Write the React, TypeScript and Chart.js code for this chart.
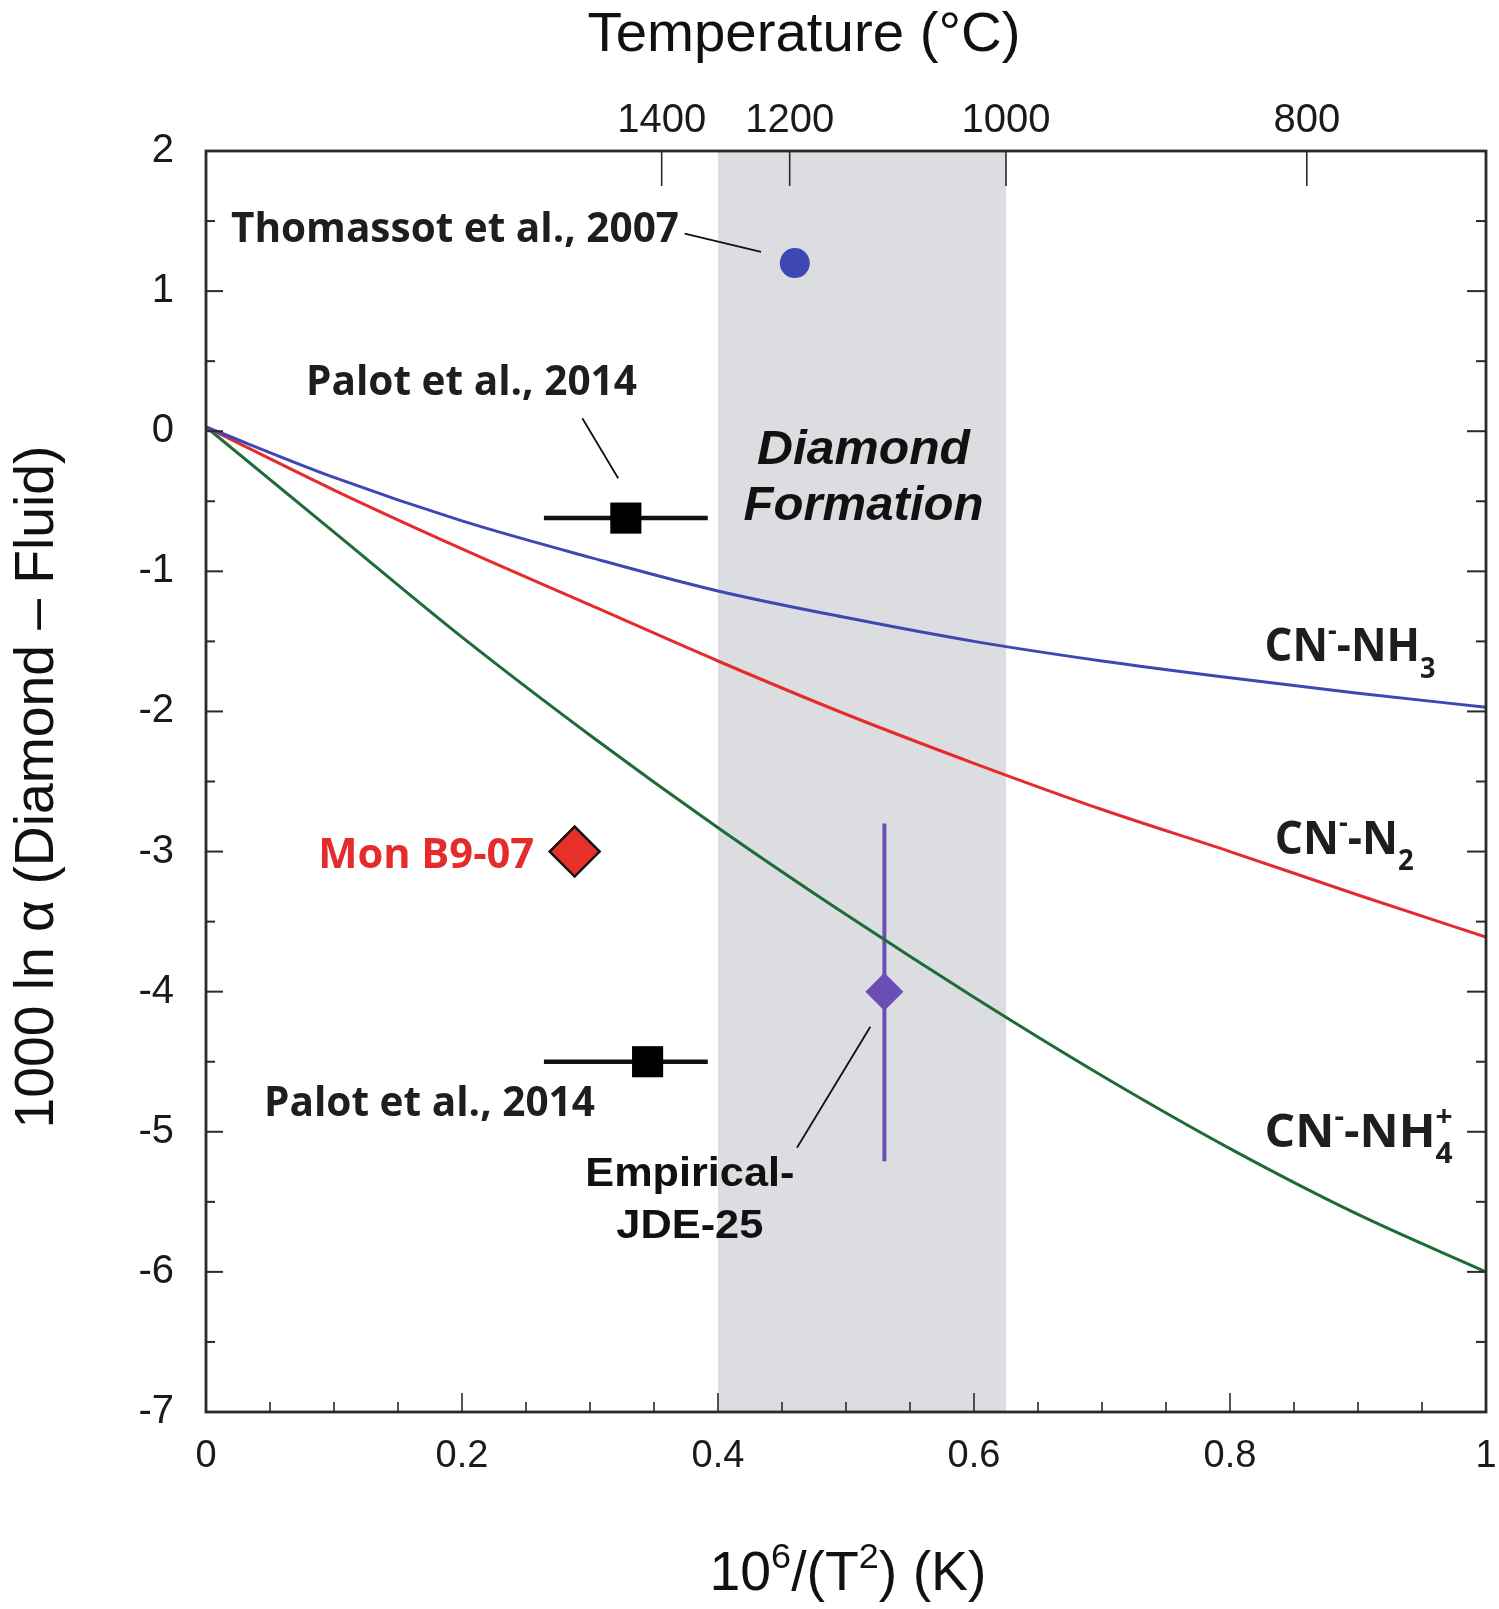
import React, { useEffect, useRef } from "react";
import { Chart, registerables } from "chart.js";

Chart.register(...registerables);

// ---------------- data ----------------
const curveX = [0, 0.1, 0.2, 0.3, 0.4, 0.5, 0.6, 0.7, 0.8, 0.9, 1.0];
const cnNH3 = [0.03, -0.33, -0.64, -0.9, -1.14, -1.33, -1.5, -1.64, -1.76, -1.87, -1.97];
const cnN2 = [0.03, -0.42, -0.84, -1.24, -1.64, -2.02, -2.37, -2.7, -3.0, -3.31, -3.61];
const cnNH4 = [0.03, -0.72, -1.47, -2.17, -2.83, -3.45, -4.04, -4.6, -5.12, -5.59, -6.0];

// top (temperature) axis: labels and where the figure places them on the 10^6/T^2 axis
const tempTicksC = [1400, 1200, 1000, 800];
const tempTickX = [0.356, 0.456, 0.625, 0.86];
const xTickValues = [0, 0.2, 0.4, 0.6, 0.8, 1];
const yTickValues = [2, 1, 0, -1, -2, -3, -4, -5, -6, -7];

const shadeRange = [0.4, 0.625];

const thomassotX = [0.46];
const thomassotY = [1.2];
const palotX = [0.328, 0.345];
const palotY = [-0.62, -4.5];
const palotXMin = [0.264, 0.264];
const palotXMax = [0.392, 0.392];
const monB9X = [0.288];
const monB9Y = [-3.0];
const jdeX = [0.53];
const jdeY = [-4.0];
const jdeYMin = [-5.21];
const jdeYMax = [-2.8];

// ---------------- styling / layout ----------------
const SANS = '"Liberation Sans", Arial, Helvetica, sans-serif';
const LABEL = '"Open Sans", "Noto Sans", sans-serif';
const TEXT = "#1f1d1e";
const BLUE = "#3d48b3";
const RED = "#e52b2b";
const GREEN = "#1d6b37";
const PURPLE = "#6a4db5";

function fitText(
  ctx: CanvasRenderingContext2D,
  text: string,
  x: number,
  y: number,
  font: string,
  color: string,
  targetW: number,
  align: CanvasTextAlign = "center"
) {
  ctx.save();
  ctx.font = font;
  const w = ctx.measureText(text).width;
  const s = targetW > 0 ? targetW / w : 1;
  ctx.translate(x, y);
  ctx.scale(s, 1);
  ctx.fillStyle = color;
  ctx.textAlign = align;
  ctx.textBaseline = "alphabetic";
  ctx.fillText(text, 0, 0);
  ctx.restore();
}

type Part = { t: string; mode?: "sup" | "sub"; stay?: boolean };

function drawParts(
  ctx: CanvasRenderingContext2D,
  parts: Part[],
  x: number,
  baseline: number,
  family: string,
  weight: string,
  size: number,
  targetW: number,
  color: string,
  align: "left" | "center",
  supDy: number,
  subDy: number,
  smallRatio: number
) {
  const small = size * smallRatio;
  const fMain = `${weight} ${size}px ${family}`;
  const fSmall = `${weight} ${small}px ${family}`;
  const widths: number[] = [];
  let total = 0;
  let pos = 0;
  parts.forEach((p) => {
    ctx.font = p.mode ? fSmall : fMain;
    const w = ctx.measureText(p.t).width;
    widths.push(w);
    if (!p.stay) pos += w;
    total = Math.max(total, pos, pos + (p.stay ? w : 0));
  });
  const s = targetW > 0 ? targetW / total : 1;
  ctx.save();
  const x0 = align === "center" ? x - (total * s) / 2 : x;
  ctx.translate(x0, baseline);
  ctx.scale(s, 1);
  ctx.fillStyle = color;
  ctx.textAlign = "left";
  ctx.textBaseline = "alphabetic";
  let cx = 0;
  parts.forEach((p, i) => {
    ctx.font = p.mode ? fSmall : fMain;
    const dy = p.mode === "sup" ? -size * supDy : p.mode === "sub" ? size * subDy : 0;
    ctx.fillText(p.t, cx, dy);
    if (!p.stay) cx += widths[i];
  });
  ctx.restore();
}

function line(ctx: CanvasRenderingContext2D, x1: number, y1: number, x2: number, y2: number) {
  ctx.beginPath();
  ctx.moveTo(x1, y1);
  ctx.lineTo(x2, y2);
  ctx.stroke();
}

const decorPlugin = {
  id: "decor",
  beforeDatasetsDraw(chart: any) {
    const { ctx, chartArea: a } = chart;
    const xs = chart.scales.x;
    const ys = chart.scales.y;
    ctx.save();
    // diamond-formation band
    const x0 = xs.getPixelForValue(shadeRange[0]);
    const x1 = xs.getPixelForValue(shadeRange[1]);
    ctx.fillStyle = "#dcdde0";
    ctx.fillRect(x0, a.top, x1 - x0, a.bottom - a.top);
    // Palot error bars (horizontal)
    ctx.strokeStyle = "#111";
    ctx.lineWidth = 4.5;
    ctx.lineCap = "butt";
    palotY.forEach((py, i) => {
      const yp = ys.getPixelForValue(py);
      line(ctx, xs.getPixelForValue(palotXMin[i]), yp, xs.getPixelForValue(palotXMax[i]), yp);
    });
    // JDE vertical error bar
    ctx.strokeStyle = PURPLE;
    ctx.lineWidth = 4;
    jdeX.forEach((jx, i) => {
      const xp = xs.getPixelForValue(jx);
      line(ctx, xp, ys.getPixelForValue(jdeYMin[i]), xp, ys.getPixelForValue(jdeYMax[i]));
    });
    ctx.restore();
  },
  afterDraw(chart: any) {
    const { ctx, chartArea: a } = chart;
    const xs = chart.scales.x;
    const ys = chart.scales.y;
    const px = (v: number) => xs.getPixelForValue(v);
    const py = (v: number) => ys.getPixelForValue(v);
    ctx.save();

    // frame
    ctx.strokeStyle = "#2a2a2a";
    ctx.lineWidth = 2.8;
    ctx.strokeRect(a.left, a.top, a.right - a.left, a.bottom - a.top);

    // inward ticks
    ctx.lineWidth = 2;
    yTickValues.forEach((v) => {
      const yp = py(v);
      line(ctx, a.left, yp, a.left + 17, yp);
      line(ctx, a.right, yp, a.right - 19, yp);
      if (v < 2) {
        const ym = py(v + 0.5);
        line(ctx, a.left, ym, a.left + 9, ym);
        line(ctx, a.right, ym, a.right - 10, ym);
      }
    });
    ctx.lineWidth = 1.6;
    for (let i = 0; i <= 20; i++) {
      const v = i * 0.05;
      const xp = px(v);
      const major = i % 4 === 0;
      line(ctx, xp, a.bottom, xp, a.bottom - (major ? 19 : 10));
    }
    tempTickX.forEach((tx) => {
      const xp = px(tx);
      line(ctx, xp, a.top, xp, a.top + 35);
    });

    // leader lines
    ctx.strokeStyle = "#111";
    ctx.lineWidth = 1.8;
    line(ctx, px(0.374), py(1.41), px(0.4336), py(1.28));
    line(ctx, px(0.294), py(0.093), px(0.322), py(-0.336));
    line(ctx, px(0.4617), py(-5.114), px(0.519), py(-4.25));

    // annotations
    fitText(ctx, "Thomassot et al., 2007", px(0.1945), py(1.35), `bold 41px ${LABEL}`, TEXT, 448);
    fitText(ctx, "Palot et al., 2014", px(0.2074), py(0.257), `bold 41px ${LABEL}`, TEXT, 331);
    fitText(ctx, "Palot et al., 2014", px(0.1746), py(-4.886), `bold 41px ${LABEL}`, TEXT, 331);
    fitText(ctx, "Mon B9-07", px(0.172), py(-3.114), `bold 41px ${LABEL}`, RED, 216);
    fitText(ctx, "Diamond", px(0.5137), py(-0.236), `italic bold 49px ${SANS}`, "#111", 213);
    fitText(ctx, "Formation", px(0.5137), py(-0.636), `italic bold 49px ${SANS}`, "#111", 240);
    fitText(ctx, "Empirical-", px(0.378), py(-5.386), `bold 40px ${SANS}`, "#111", 209);
    fitText(ctx, "JDE-25", px(0.378), py(-5.757), `bold 40px ${SANS}`, "#111", 147);

    drawParts(ctx, [{ t: "CN" }, { t: "-", mode: "sup" }, { t: "-NH" }, { t: "3", mode: "sub" }],
      px(0.827), py(-1.643), LABEL, "bold", 46, 171, TEXT, "left", 0.47, 0.36, 0.62);
    drawParts(ctx, [{ t: "CN" }, { t: "-", mode: "sup" }, { t: "-N" }, { t: "2", mode: "sub" }],
      px(0.835), py(-3.014), LABEL, "bold", 46, 139, TEXT, "left", 0.47, 0.36, 0.62);
    drawParts(ctx, [{ t: "CN" }, { t: "-", mode: "sup" }, { t: "-NH" }, { t: "4", mode: "sub", stay: true }, { t: "+", mode: "sup" }],
      px(0.827), py(-5.107), LABEL, "bold", 46, 188, TEXT, "left", 0.45, 0.36, 0.62);

    // axis titles
    fitText(ctx, "Temperature (°C)", 804, 51, `55px ${SANS}`, "#111", 433);
    drawParts(ctx, [{ t: "10" }, { t: "6", mode: "sup" }, { t: "/(T" }, { t: "2", mode: "sup" }, { t: ") (K)" }],
      848, 1590, SANS, "normal", 55, 277, "#111", "center", 0.4, 0, 0.65);
    ctx.save();
    ctx.translate(53, 787);
    ctx.rotate(-Math.PI / 2);
    fitText(ctx, "1000 ln \u03b1 (Diamond \u2013 Fluid)", 0, 0, `55px ${SANS}`, "#111", 683);
    ctx.restore();

    ctx.restore();
  },
};

const toXY = (xsArr: number[], ysArr: number[]) => xsArr.map((x, i) => ({ x, y: ysArr[i] }));

export default function App() {
  const ref = useRef<HTMLCanvasElement>(null);
  useEffect(() => {
    const canvas = ref.current;
    if (!canvas) return;
    const tickFont = (size: number) => ({ family: SANS, size });
    const zeroPadX = (s: any, h: number) => {
      s.height = h;
      s.paddingLeft = 0;
      s.paddingRight = 0;
    };
    const chart = new Chart(canvas, {
      type: "scatter",
      data: {
        datasets: [
          {
            label: "Thomassot et al., 2007",
            data: toXY(thomassotX, thomassotY),
            pointStyle: "circle",
            pointRadius: 15,
            backgroundColor: BLUE,
            borderColor: BLUE,
            borderWidth: 0,
            showLine: false,
          },
          {
            label: "Empirical-JDE-25",
            data: toXY(jdeX, jdeY),
            pointStyle: "rectRot",
            pointRadius: 19,
            backgroundColor: PURPLE,
            borderColor: PURPLE,
            borderWidth: 0,
            showLine: false,
          },
          {
            label: "Mon B9-07",
            data: toXY(monB9X, monB9Y),
            pointStyle: "rectRot",
            pointRadius: 25,
            backgroundColor: "#e8302a",
            borderColor: "#111",
            borderWidth: 2.5,
            showLine: false,
          },
          {
            label: "Palot et al., 2014",
            data: toXY(palotX, palotY),
            pointStyle: "rect",
            pointRadius: 22,
            backgroundColor: "#000",
            borderColor: "#000",
            borderWidth: 0,
            showLine: false,
          },
          {
            label: "CN--NH3",
            data: toXY(curveX, cnNH3),
            showLine: true,
            borderColor: BLUE,
            borderWidth: 3,
            pointRadius: 0,
            cubicInterpolationMode: "monotone",
          },
          {
            label: "CN--N2",
            data: toXY(curveX, cnN2),
            showLine: true,
            borderColor: RED,
            borderWidth: 3,
            pointRadius: 0,
            cubicInterpolationMode: "monotone",
          },
          {
            label: "CN--NH4+",
            data: toXY(curveX, cnNH4),
            showLine: true,
            borderColor: GREEN,
            borderWidth: 3,
            pointRadius: 0,
            cubicInterpolationMode: "monotone",
          },
        ] as any,
      },
      options: {
        responsive: false,
        animation: false,
        events: [],
        layout: { autoPadding: false, padding: { left: 0, right: 13, top: 0, bottom: 0 } },
        plugins: { legend: { display: false }, tooltip: { enabled: false } },
        scales: {
          x: {
            type: "linear",
            position: "bottom",
            min: 0,
            max: 1,
            grid: { display: false, drawTicks: false, tickLength: 0 },
            border: { display: false },
            afterBuildTicks: (s: any) => {
              s.ticks = xTickValues.map((v) => ({ value: v }));
            },
            ticks: {
              autoSkip: false,
              maxRotation: 0,
              padding: 22,
              color: "#1a1a1a",
              font: tickFont(38),
              callback: (v: any) => String(Math.round(Number(v) * 10) / 10),
            },
            afterFit: (s: any) => zeroPadX(s, 197),
          },
          xTop: {
            type: "linear",
            position: "top",
            min: 0,
            max: 1,
            grid: { display: false, drawTicks: false, tickLength: 0 },
            border: { display: false },
            afterBuildTicks: (s: any) => {
              s.ticks = tempTickX.map((v) => ({ value: v }));
            },
            ticks: {
              autoSkip: false,
              maxRotation: 0,
              padding: 6,
              color: "#1a1a1a",
              font: tickFont(40),
              callback: (_v: any, i: number) => String(tempTicksC[i]),
            },
            afterFit: (s: any) => zeroPadX(s, 151),
          },
          y: {
            type: "linear",
            position: "left",
            min: -7,
            max: 2,
            grid: { display: false, drawTicks: false, tickLength: 0 },
            border: { display: false },
            afterBuildTicks: (s: any) => {
              s.ticks = yTickValues.map((v) => ({ value: v }));
            },
            ticks: {
              autoSkip: false,
              padding: 32,
              color: "#1a1a1a",
              font: tickFont(40),
              callback: (v: any) => String(v),
            },
            afterFit: (s: any) => {
              s.width = 206;
              s.paddingTop = 0;
              s.paddingBottom = 0;
            },
          },
        },
      } as any,
      plugins: [decorPlugin],
    });
    return () => chart.destroy();
  }, []);
  return (
    <div style={{ position: "absolute", left: 0, top: 0, width: 1499, height: 1609, background: "#fff" }}>
      <canvas ref={ref} width={1499} height={1609} style={{ display: "block", width: 1499, height: 1609 }} />
    </div>
  );
}
